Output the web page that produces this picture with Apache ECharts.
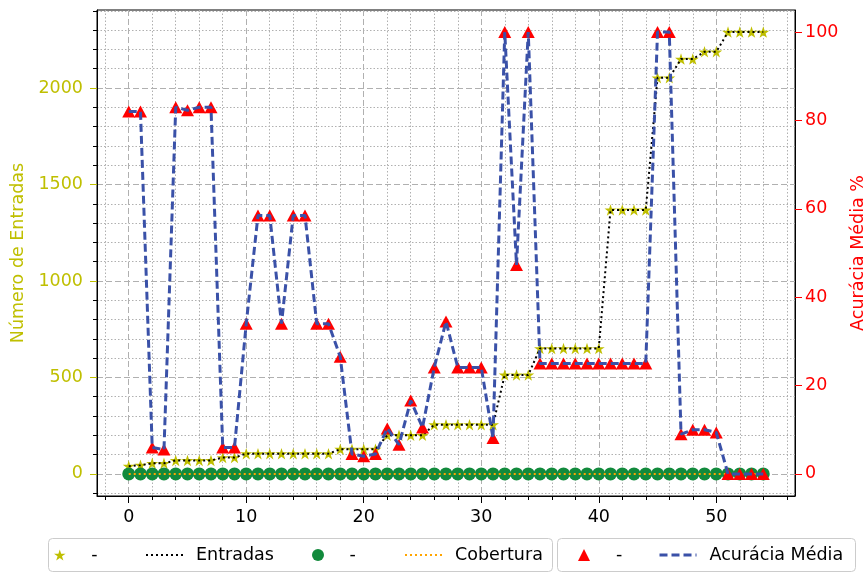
<!DOCTYPE html>
<html>
<head>
<meta charset="utf-8">
<script src="https://cdn.jsdelivr.net/npm/echarts@6/dist/echarts.min.js"></script>
<style>
  html, body { margin: 0; padding: 0; background: #fff; }
  #chart { width: 863px; height: 572px; }
</style>
</head>
<body>
<div id="chart"></div>
<script>
// Run index on the horizontal axis
const runs = [0, 1, 2, 3, 4, 5, 6, 7, 8, 9,
  10, 11, 12, 13, 14, 15, 16, 17, 18, 19,
  20, 21, 22, 23, 24, 25, 26, 27, 28, 29,
  30, 31, 32, 33, 34, 35, 36, 37, 38, 39,
  40, 41, 42, 43, 44, 45, 46, 47, 48, 49,
  50, 51, 52, 53, 54];

// Número de Entradas (left axis)
const entradas = [40, 45, 55, 55, 70, 70, 70, 70, 85, 85,
  105, 105, 105, 105, 105, 105, 105, 105, 128, 128,
  128, 128, 200, 200, 200, 200, 255, 255, 255, 255,
  255, 255, 513, 513, 513, 650, 650, 650, 650, 650,
  650, 1368, 1368, 1368, 1368, 2053, 2053, 2150, 2150, 2188,
  2188, 2290, 2290, 2290, 2290];

// Cobertura (left axis)
const cobertura = [0, 0, 0, 0, 0, 0, 0, 0, 0, 0,
  0, 0, 0, 0, 0, 0, 0, 0, 0, 0,
  0, 0, 0, 0, 0, 0, 0, 0, 0, 0,
  0, 0, 0, 0, 0, 0, 0, 0, 0, 0,
  0, 0, 0, 0, 0, 0, 0, 0, 0, 0,
  0, 0, 0, 0, 0];

// Acurácia Média % (right axis)
const acuracia = [82, 82, 6, 5.5, 83, 82.3, 83, 83, 6, 6,
  34, 58.5, 58.5, 34, 58.5, 58.5, 34, 34, 26.5, 4.5,
  4, 4.5, 10.3, 6.6, 16.6, 10.5, 24.1, 34.5, 24.1, 24.1,
  24.1, 8.1, 100, 47.3, 100, 25, 25, 25, 25, 25,
  25, 25, 25, 25, 25, 100, 100, 9, 10, 10,
  9.4, 0, 0, 0, 0];

// Tick labels
const xTicks = [0, 10, 20, 30, 40, 50];
const entradasTicks = [0, 500, 1000, 1500, 2000];
const acuraciaTicks = [0, 20, 40, 60, 80, 100];

const FONT = 'DejaVu Sans';
const OLIVE = '#bfbf00';
const RED = '#ff0000';
const GREEN = '#128a3c';
const ORANGE = '#ffa500';
const BLUE = '#3a51a8';
const GRID_COLOR = '#b0b0b0';
const STAR = 'path://M100,0L122.45,69.1L195.1,69.1L136.3,111.8L158.8,180.9L100,138.2L41.2,180.9L63.7,111.8L4.9,69.1L77.55,69.1Z';

const pairs = vals => runs.map((r, i) => [r, vals[i]]);
const plain = v => String(v);

const majorGrid = { show: true, lineStyle: { color: GRID_COLOR, width: 1, type: [6, 3] } };
const minorGrid = { show: true, lineStyle: { color: GRID_COLOR, width: 1, type: [1.5, 2] } };
const labelFont = { fontFamily: FONT, fontSize: 17.5 };

const legendBase = {
  orient: 'horizontal', top: 546, padding: 0, itemGap: 0,
  itemWidth: 37, itemHeight: 12, selectedMode: false, symbolKeepAspect: true,
  textStyle: { color: '#000', fontFamily: FONT, fontSize: 17.5, padding: [0, 0, 0, 8] }
};
const dashLabel = () => '-';

const chart = echarts.init(document.getElementById('chart'), null, { renderer: 'canvas' });
chart.setOption({
  animation: false,
  backgroundColor: '#fff',
  grid: {
    left: 97, right: 68, top: 10, bottom: 76,
    show: true, borderColor: '#000', borderWidth: 1,
    backgroundColor: 'transparent',
    containLabel: false, outerBoundsMode: 'none'
  },
  xAxis: {
    type: 'value', min: -2.7, max: 56.7,
    axisLine: { show: true, onZero: false, lineStyle: { color: '#000', width: 1 } },
    axisTick: { show: true, inside: false, length: 7, customValues: xTicks, lineStyle: { color: '#000', width: 1 } },
    minorTick: { show: true, splitNumber: 5, length: 4, lineStyle: { color: '#000', width: 1 } },
    axisLabel: Object.assign({ customValues: xTicks, margin: 12, color: '#000', formatter: plain }, labelFont),
    splitLine: majorGrid,
    minorSplitLine: minorGrid
  },
  yAxis: [
    {
      type: 'value', position: 'left', min: -114.5, max: 2404.5,
      name: 'Número de Entradas', nameLocation: 'middle', nameGap: 61, nameRotate: 90,
      nameTextStyle: Object.assign({ color: OLIVE }, labelFont),
      axisLine: { show: true, onZero: false, lineStyle: { color: '#000', width: 1 } },
      axisTick: { show: true, inside: false, length: 7, customValues: entradasTicks, lineStyle: { color: OLIVE, width: 1 } },
      minorTick: { show: true, splitNumber: 5, length: 4, lineStyle: { color: '#000', width: 1 } },
      axisLabel: Object.assign({ customValues: entradasTicks, margin: 14, color: OLIVE, formatter: plain }, labelFont),
      splitLine: majorGrid,
      minorSplitLine: minorGrid
    },
    {
      type: 'value', position: 'right', min: -5, max: 105,
      name: 'Acurácia Média %', nameLocation: 'middle', nameGap: 47, nameRotate: 90,
      nameTextStyle: Object.assign({ color: RED }, labelFont),
      axisLine: { show: true, onZero: false, lineStyle: { color: '#000', width: 1 } },
      axisTick: { show: true, inside: false, length: 7, customValues: acuraciaTicks, lineStyle: { color: RED, width: 1 } },
      minorTick: { show: false },
      axisLabel: Object.assign({ customValues: acuraciaTicks, margin: 10, color: RED, formatter: plain }, labelFont),
      splitLine: { show: false },
      minorSplitLine: { show: false }
    }
  ],
  legend: [
    Object.assign({}, legendBase, { left: 54, data: ['entradasPts'], formatter: dashLabel, itemHeight: 11 }),
    Object.assign({}, legendBase, { left: 145, data: ['Entradas'], itemStyle: { opacity: 0 }, lineStyle: { width: 2 } }),
    Object.assign({}, legendBase, { left: 312, data: ['coberturaPts'], formatter: dashLabel, itemHeight: 12 }),
    Object.assign({}, legendBase, { left: 404, data: ['Cobertura'], itemStyle: { opacity: 0 }, lineStyle: { width: 2 } }),
    Object.assign({}, legendBase, { left: 578, data: ['acuraciaPts'], formatter: dashLabel,
      itemWidth: 12, itemHeight: 12, textStyle: Object.assign({}, legendBase.textStyle, { padding: [0, 0, 0, 21] }) }),
    Object.assign({}, legendBase, { left: 658, data: ['Acurácia Média'], itemStyle: { opacity: 0 }, lineStyle: { width: 3 } })
  ],
  graphic: [
    { type: 'rect', left: 48, top: 538, z: 0, silent: true,
      shape: { width: 504, height: 33, r: 4 }, style: { fill: '#fff', stroke: '#cccccc', lineWidth: 1 } },
    { type: 'rect', left: 557, top: 538, z: 0, silent: true,
      shape: { width: 298, height: 33, r: 4 }, style: { fill: '#fff', stroke: '#cccccc', lineWidth: 1 } }
  ],
  series: [
    { name: 'entradasPts', type: 'scatter', yAxisIndex: 0, z: 2, data: pairs(entradas),
      symbol: STAR, symbolSize: [12, 11.5], itemStyle: { color: OLIVE, opacity: 1 } },
    { name: 'Entradas', type: 'line', yAxisIndex: 0, z: 3, data: pairs(entradas),
      symbol: 'none', lineStyle: { color: '#000', width: 2, type: [2, 3] }, itemStyle: { color: '#000' } },
    { name: 'coberturaPts', type: 'scatter', yAxisIndex: 0, z: 4, data: pairs(cobertura),
      symbol: 'circle', symbolSize: 13, itemStyle: { color: GREEN, opacity: 1 } },
    { name: 'Cobertura', type: 'line', yAxisIndex: 0, z: 5, data: pairs(cobertura),
      symbol: 'none', lineStyle: { color: ORANGE, width: 2, type: [2, 3] }, itemStyle: { color: ORANGE } },
    { name: 'acuraciaPts', type: 'scatter', yAxisIndex: 1, z: 6, data: pairs(acuracia),
      symbol: 'triangle', symbolSize: [13, 12], itemStyle: { color: RED, opacity: 1 } },
    { name: 'Acurácia Média', type: 'line', yAxisIndex: 1, z: 7, data: pairs(acuracia),
      symbol: 'none', lineStyle: { color: BLUE, width: 3, type: [8, 4] }, itemStyle: { color: BLUE } }
  ]
});
</script>
</body>
</html>
